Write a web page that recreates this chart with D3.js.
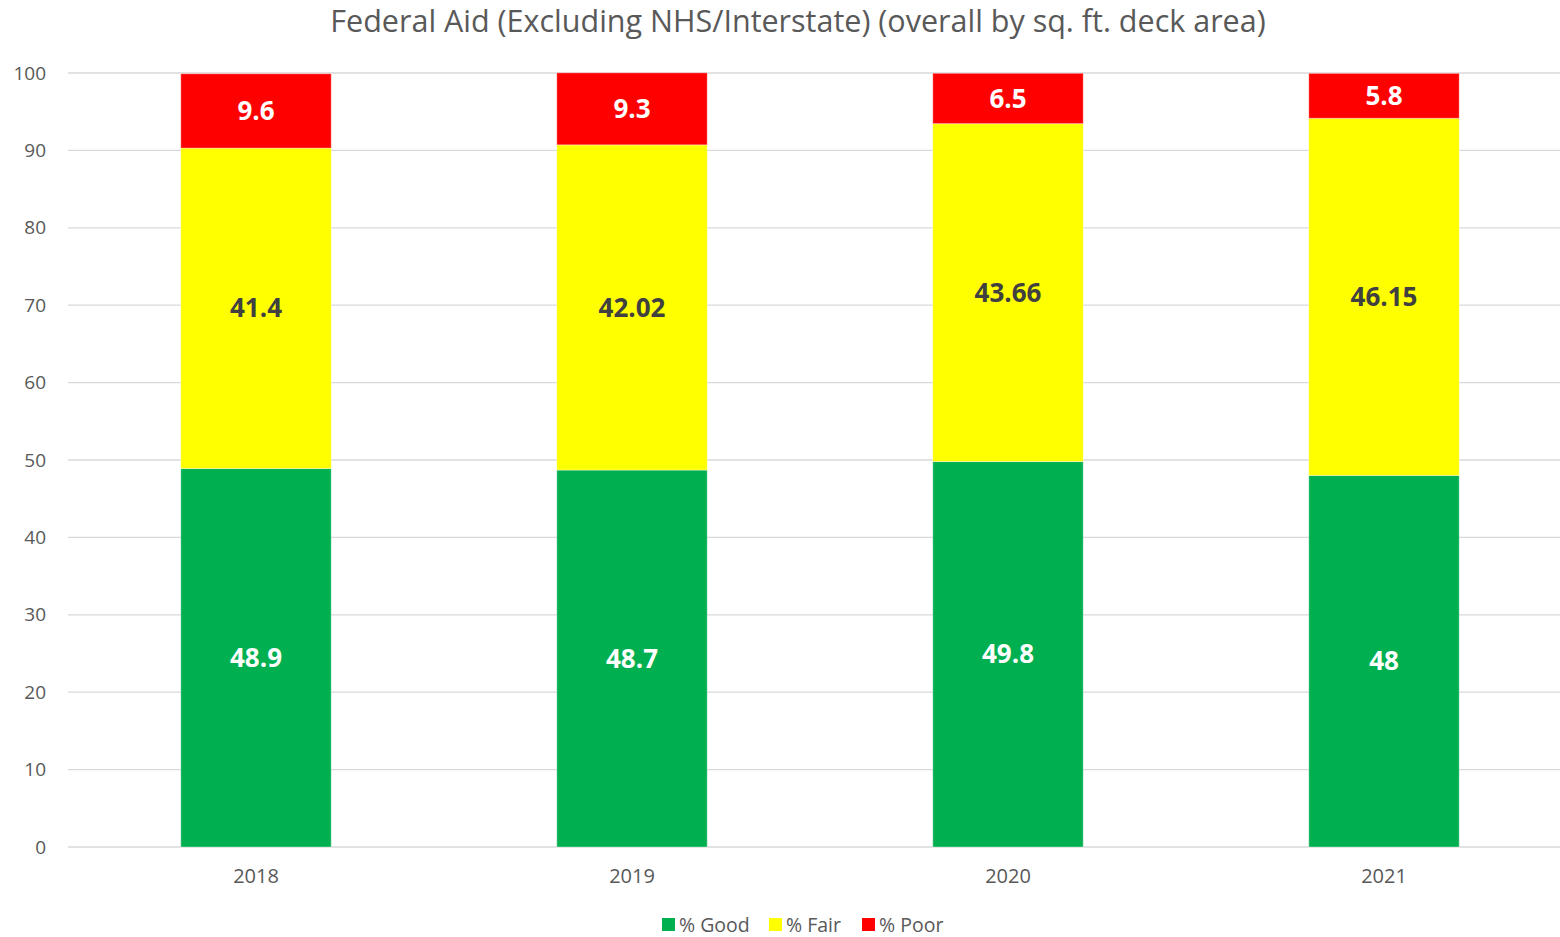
<!DOCTYPE html>
<html><head><meta charset="utf-8">
<script src="https://cdn.jsdelivr.net/npm/d3@7/dist/d3.min.js"></script>
<style>body{margin:0;background:#fff;} svg{display:block;font-family:"Open Sans","Noto Sans",sans-serif;}</style>
</head><body>
<svg id="c" width="1560" height="937"></svg>
<script>
const years = ["2018","2019","2020","2021"];
const good = [48.9, 48.7, 49.8, 48];
const fair = [41.4, 42.02, 43.66, 46.15];
const poor = [9.6, 9.3, 6.5, 5.8];
const seriesNames = ["% Good","% Fair","% Poor"];
const seriesColors = ["#00B050","#FFFF00","#FF0000"];
const labelColors = ["#ffffff","#404040","#ffffff"];
const yTicks = [0,10,20,30,40,50,60,70,80,90,100];
const title = "Federal Aid (Excluding NHS/Interstate) (overall by sq. ft. deck area)";

const svg = d3.select("#c");
const x = d3.scaleBand().domain(years).range([68, 1572]).paddingInner(0.6).paddingOuter(0.3);
const y = d3.scaleLinear().domain([0,100]).range([847, 73]);

// gridlines
svg.append("g").selectAll("line").data(yTicks).join("line")
  .attr("x1", 68).attr("x2", 1560)
  .attr("y1", d => y(d)).attr("y2", d => y(d))
  .attr("stroke", "#d9d9d9").attr("stroke-width", 1.3);

// y labels
svg.append("g").selectAll("text").data(yTicks).join("text")
  .attr("x", 46).attr("y", d => y(d)).attr("dy", "0.35em")
  .attr("text-anchor", "end").attr("font-size", 19).attr("fill", "#595959")
  .text(d => d);

// stack
const rows = years.map((yr, i) => ({year: yr, s0: good[i], s1: fair[i], s2: poor[i]}));
const stack = d3.stack().keys(["s0","s1","s2"])(rows);

stack.forEach((layer, li) => {
  const g = svg.append("g");
  g.selectAll("rect").data(layer).join("rect")
    .attr("x", d => x(d.data.year))
    .attr("width", x.bandwidth())
    .attr("y", d => y(d[1]))
    .attr("height", d => y(d[0]) - y(d[1]))
    .attr("fill", seriesColors[li])
    .attr("stroke", "rgba(255,255,255,0.35)").attr("stroke-width", 1);
  g.selectAll("text").data(layer).join("text")
    .attr("x", d => x(d.data.year) + x.bandwidth()/2)
    .attr("y", d => y((d[0]+d[1])/2)).attr("dy", "0.35em")
    .attr("text-anchor", "middle").attr("font-size", 26).attr("font-weight", "bold")
    .attr("fill", labelColors[li])
    .text(d => d.data["s"+li]);
});

// x labels
svg.append("g").selectAll("text").data(years).join("text")
  .attr("x", d => x(d) + x.bandwidth()/2).attr("y", 876).attr("dy", "0.35em")
  .attr("text-anchor", "middle").attr("font-size", 20).attr("fill", "#595959")
  .text(d => d);

// title
svg.append("text").attr("x", 798).attr("y", 21).attr("dy", "0.35em")
  .attr("text-anchor", "middle").attr("font-size", 30.5).attr("fill", "#595959")
  .text(title);

// legend
const legX = [662, 769, 862];
const lg = svg.append("g");
seriesNames.forEach((n, i) => {
  lg.append("rect").attr("x", legX[i]).attr("y", 918).attr("width", 13).attr("height", 13).attr("fill", seriesColors[i]);
  lg.append("text").attr("x", legX[i] + 17).attr("y", 925).attr("dy", "0.35em")
    .attr("font-size", 19.5).attr("fill", "#595959").text(n);
});
</script>
</body></html>
